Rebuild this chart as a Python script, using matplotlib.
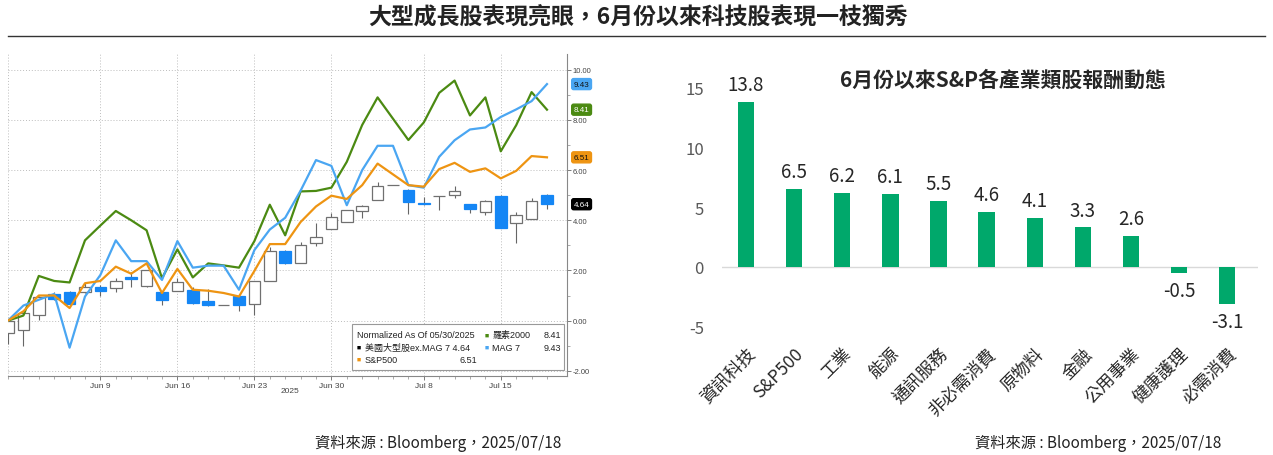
import matplotlib
matplotlib.use("Agg")
import matplotlib.pyplot as plt
import matplotlib.ticker as mticker
from matplotlib.lines import Line2D
from matplotlib.patches import Rectangle
import matplotlib.transforms as mtrans
import numpy as np
import pandas as pd

plt.rcParams['font.family'] = ['Noto Sans CJK TC', 'DejaVu Sans']

# ---------------- data: left chart (normalized % since 05/30/2025, weekdays) ----------------
dates = pd.bdate_range('2025-05-30', '2025-07-18')
rut2000 = [0.0, 0.2, 1.78, 1.58, 1.52, 3.2, 3.79, 4.37, 4.0, 3.6, 1.69, 2.84, 1.72, 2.28, 2.2, 2.11,
           3.17, 4.62, 3.4, 5.15, 5.17, 5.3, 6.33, 7.8, 8.9, 8.05, 7.2, 7.9, 9.08, 9.57, 8.18, 8.9,
           6.75, 7.79, 9.11, 8.41]
mag7 = [0.0, 0.6, 0.83, 1.06, -1.08, 0.96, 1.82, 3.2, 2.37, 2.37, 1.62, 3.17, 2.11, 2.19, 2.19, 1.23,
        2.81, 3.63, 4.1, 5.18, 6.4, 6.17, 4.6, 6.0, 6.97, 6.97, 5.4, 5.3, 6.53, 7.19, 7.62, 7.7,
        8.12, 8.42, 8.75, 9.43]
spx = [0.0, 0.37, 1.0, 1.0, 0.5, 1.49, 1.58, 2.15, 1.87, 2.28, 1.1, 2.06, 1.23, 1.19, 1.1, 0.96,
       1.98, 3.05, 3.05, 3.93, 4.55, 4.98, 4.85, 5.4, 6.26, 5.83, 5.4, 5.34, 6.04, 6.29, 5.93, 6.07,
       5.67, 5.97, 6.56, 6.51]
# 美國大型股 ex.MAG 7 candles
ex_open = [-0.49, -0.37, 0.22, 1.06, 1.12, 1.12, 1.35, 1.28, 1.72, 1.37, 1.15, 1.16, 1.23, 0.78, 0.62, 0.99,
           0.66, 1.59, 2.78, 2.28, 3.08, 3.65, 3.94, 4.35, 4.8, 5.4, 5.22, 4.69, 4.95, 5.0, 4.63, 4.34,
           4.98, 3.91, 4.07, 5.02]
ex_close = [0.0, 0.3, 0.96, 0.86, 0.66, 1.35, 1.19, 1.59, 1.64, 2.0, 0.82, 1.55, 0.72, 0.62, 0.62, 0.63,
            1.56, 2.78, 2.29, 3.02, 3.34, 4.14, 4.42, 4.58, 5.38, 5.4, 4.74, 4.63, 4.95, 5.15, 4.45, 4.78,
            3.71, 4.21, 4.78, 4.64]
ex_high = [0.0, 0.3, 1.0, 1.12, 1.19, 1.5, 1.4, 1.68, 1.95, 2.02, 1.18, 1.7, 1.32, 1.26, 0.62, 1.0,
           1.56, 2.95, 2.8, 3.14, 3.89, 4.27, 4.42, 4.6, 5.51, 5.4, 5.25, 4.91, 4.97, 5.38, 4.65, 4.8,
           5.02, 4.31, 4.87, 5.05]
ex_low = [-0.95, -1.0, 0.03, 0.82, 0.62, 1.08, 0.99, 1.15, 1.34, 1.35, 0.62, 1.16, 0.66, 0.6, 0.62, 0.39,
          0.22, 1.59, 2.25, 2.28, 2.98, 3.65, 3.92, 4.11, 4.8, 5.4, 4.25, 4.6, 4.42, 4.87, 4.27, 4.2,
          3.71, 3.09, 4.07, 4.45]
tick_dates = ['2025-06-09', '2025-06-16', '2025-06-23', '2025-06-30', '2025-07-08', '2025-07-15']
tick_labels = ['Jun 9', 'Jun 16', 'Jun 23', 'Jun 30', 'Jul 8', 'Jul 15']
legend_names = ['羅素2000', 'MAG 7', 'S&P500', '美國大型股ex.MAG 7']

# ---------------- data: right chart ----------------
sectors = ['資訊科技', 'S&P500', '工業', '能源', '通訊服務', '非必需消費', '原物料', '金融',
           '公用事業', '健康護理', '必需消費']
returns = [13.8, 6.5, 6.2, 6.1, 5.5, 4.6, 4.1, 3.3, 2.6, -0.5, -3.1]

# ---------------- colours ----------------
C_GREEN = '#4b8a12'
C_BLUE = '#4aa6f2'
C_ORANGE = '#ee9412'
C_CANDLE = '#1486f5'
C_BAR = '#00a86b'

W, H = 1273, 456
fig = plt.figure(figsize=(W / 100, H / 100), dpi=100)
fig.patch.set_facecolor('white')

# main title and rule
fig.text(638 / W, 1 - 18 / H, '大型成長股表現亮眼，6月份以來科技股表現一枝獨秀',
         ha='center', va='center', fontsize=16.5, fontweight='bold', color='#222222')
fig.add_artist(Line2D([8 / W, 1265 / W], [1 - 37 / H, 1 - 37 / H], color='#333333', lw=1.0))

# ================= left chart =================
ax1 = fig.add_axes([8 / W, 1 - 377 / H, 559 / W, 322 / H])
x = np.arange(len(dates))
ax1.set_xlim(0, 36.3)
ax1.set_ylim(-2.21, 10.63)

op = np.array(ex_open); cl = np.array(ex_close)
up = cl >= op
body_w = 0.75
ax1.vlines(x, ex_low, ex_high, color='#666666', lw=0.8, zorder=2)
ax1.bar(x[up], (cl - op)[up], bottom=op[up], width=body_w, facecolor='white',
        edgecolor='#707070', linewidth=0.9, zorder=2.5)
ax1.bar(x[~up], (cl - op)[~up], bottom=op[~up], width=body_w, facecolor=C_CANDLE,
        edgecolor=C_CANDLE, linewidth=0.9, zorder=2.5)

ax1.plot(x, rut2000, color=C_GREEN, lw=1.6, zorder=4)
ax1.plot(x, mag7, color=C_BLUE, lw=1.6, zorder=4)
ax1.plot(x, spx, color=C_ORANGE, lw=1.6, zorder=4)

# axes styling
for s in ['top', 'left']:
    ax1.spines[s].set_visible(False)
ax1.spines['right'].set_color('#888888')
ax1.spines['bottom'].set_color('#888888')
ax1.spines['right'].set_linewidth(0.8)
ax1.spines['bottom'].set_linewidth(0.8)
ax1.yaxis.tick_right()
ax1.yaxis.set_major_locator(mticker.MultipleLocator(2))
ax1.yaxis.set_minor_locator(mticker.MultipleLocator(1))
ax1.yaxis.set_major_formatter(mticker.FormatStrFormatter('%.2f'))
ax1.tick_params(axis='y', which='major', length=3, width=0.6, color='#666666', pad=1,
                labelsize=5.5, labelcolor='#444444')
ax1.tick_params(axis='y', which='minor', length=2, width=0.5, color='#888888')

tick_pos = [int(np.where(dates == pd.Timestamp(d))[0][0]) for d in tick_dates]
ax1.set_xticks(tick_pos)
ax1.set_xticklabels(tick_labels)
ax1.set_xticks(x, minor=True)
ax1.tick_params(axis='x', which='major', length=3, width=0.6, color='#666666', pad=1,
                labelsize=6, labelcolor='#444444')
ax1.tick_params(axis='x', which='minor', length=2, width=0.5, color='#888888')
for lab in ax1.get_xticklabels() + ax1.get_yticklabels():
    lab.set_family(['Liberation Sans', 'DejaVu Sans'])
ax1.text(18.3, -0.035, '2025', transform=mtrans.blended_transform_factory(ax1.transData, ax1.transAxes),
         ha='center', va='top', fontsize=6, color='#444444', family=['Liberation Sans', 'DejaVu Sans'])

ax1.grid(True, which='major', color='#bdbdbd', linestyle=(0, (1, 2)), lw=0.7)
ax1.set_axisbelow(True)
ax1.axvline(0.02, color='#bdbdbd', linestyle=(0, (1, 2)), lw=0.7, zorder=0)

# end value tags
tag_tr = mtrans.blended_transform_factory(ax1.transAxes, ax1.transData)
for val, fc, tc in [(mag7[-1], C_BLUE, '#111111'), (rut2000[-1], C_GREEN, 'white'),
                    (spx[-1], C_ORANGE, '#111111'), (ex_close[-1], 'black', 'white')]:
    ax1.text(1.012, val, f'{val:.2f}', transform=tag_tr, ha='left', va='center', fontsize=5.8,
             color=tc, family=['Liberation Sans', 'DejaVu Sans'], clip_on=False,
             bbox=dict(boxstyle='round,pad=0.25', fc=fc, ec=fc))

# legend box
lfam = ['Liberation Sans', 'Noto Sans CJK TC', 'DejaVu Sans']
ax1.add_patch(Rectangle((0.615, 0.018), 0.38, 0.143, transform=ax1.transAxes, facecolor='white',
                        edgecolor='#999999', lw=0.8, zorder=6))
lt = dict(transform=ax1.transAxes, fontsize=6.5, color='#222222', family=lfam, va='center', zorder=7)
ax1.text(0.624, 0.128, 'Normalized As Of 05/30/2025', ha='left', **lt)
ax1.text(0.624, 0.090, '■', ha='left', **{**lt, 'color': 'black', 'fontsize': 5})
ax1.text(0.638, 0.090, f'{legend_names[3]} {ex_close[-1]:.2f}', ha='left', **lt)
ax1.text(0.624, 0.052, '■', ha='left', **{**lt, 'color': C_ORANGE, 'fontsize': 5})
ax1.text(0.638, 0.052, legend_names[2], ha='left', **lt)
ax1.text(0.84, 0.052, f'{spx[-1]:.2f}', ha='right', **lt)
ax1.text(0.852, 0.128, '■', ha='left', **{**lt, 'color': C_GREEN, 'fontsize': 5})
ax1.text(0.866, 0.128, legend_names[0], ha='left', **lt)
ax1.text(0.99, 0.128, f'{rut2000[-1]:.2f}', ha='right', **lt)
ax1.text(0.852, 0.090, '■', ha='left', **{**lt, 'color': C_BLUE, 'fontsize': 5})
ax1.text(0.866, 0.090, legend_names[1], ha='left', **lt)
ax1.text(0.99, 0.090, f'{mag7[-1]:.2f}', ha='right', **lt)

# ================= right chart =================
ax2 = fig.add_axes([722 / W, 1 - 339.7 / H, 536 / W, 281 / H])
xs = np.arange(len(sectors))
ax2.bar(xs, returns, width=0.34, color=C_BAR, zorder=3)
ax2.set_xlim(-0.5, 10.64)
ax2.set_ylim(-6, 17.5)
ax2.axhline(0, color='#d9d9d9', lw=1.0, zorder=2)
for s in ax2.spines.values():
    s.set_visible(False)
ax2.set_yticks([-5, 0, 5, 10, 15])
ax2.set_yticklabels(['-5', '0', '5', '10', '15'])
ax2.tick_params(axis='y', length=0, pad=13, labelsize=12, labelcolor='#595959')
ax2.set_xticks(xs)
ax2.set_xticklabels(sectors, rotation=45, ha='right', rotation_mode='anchor')
ax2.tick_params(axis='x', length=0, pad=4, labelsize=12.5, labelcolor='#262626')
for lab in ax2.get_xticklabels():
    lab.set_x(lab.get_position()[0])
for xi, v in zip(xs, returns):
    if v >= 0:
        ax2.annotate(f'{v:.1f}', (xi, v), xytext=(0, 5), textcoords='offset points',
                     ha='center', va='bottom', fontsize=13.5, color='#262626')
    else:
        ax2.annotate(f'{v:.1f}', (xi, v), xytext=(0, -5), textcoords='offset points',
                     ha='center', va='top', fontsize=13.5, color='#262626')
fig.text(1003 / W, 1 - 80 / H, '6月份以來S&P各產業類股報酬動態', ha='center', va='center',
         fontsize=15, fontweight='bold', color='#262626')

# footers
fig.text(438 / W, 1 - 443 / H, '資料來源 : Bloomberg，2025/07/18', ha='center', va='center',
         fontsize=11, color='#222222')
fig.text(1098 / W, 1 - 443 / H, '資料來源 : Bloomberg，2025/07/18', ha='center', va='center',
         fontsize=11, color='#222222')

fig.savefig('out.png', dpi=100, facecolor='white')
